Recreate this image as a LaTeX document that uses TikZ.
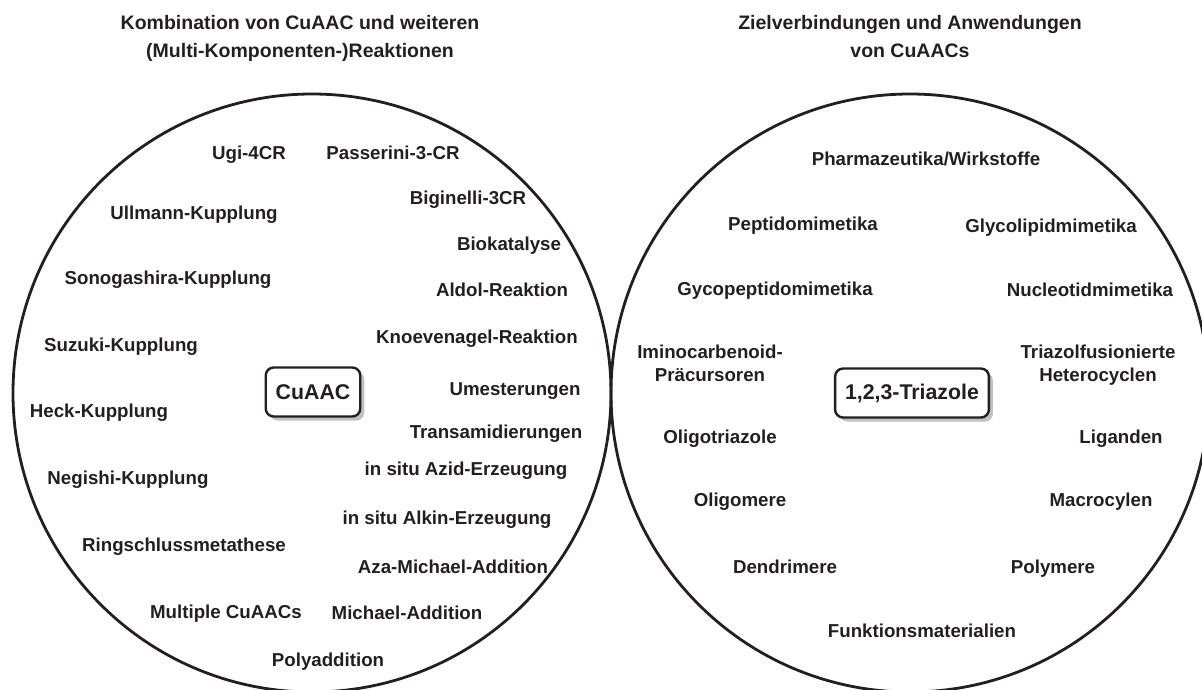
\documentclass[tikz,border=0pt]{standalone}
\usepackage{fontspec}
\setmainfont{Liberation Sans}
\usetikzlibrary{shadows}
\definecolor{ink}{RGB}{35,31,32}
\definecolor{shade}{RGB}{190,192,194}

\begin{document}
\begin{tikzpicture}[x=1pt,y=-1pt,
  ttl/.style={anchor=base,inner sep=0pt,text=ink,align=center,font=\fontsize{19.5}{27.5}\selectfont\bfseries},
  lbl/.style={anchor=base,inner sep=0pt,text=ink,align=center,font=\fontsize{18.7}{22.5}\selectfont\bfseries},
  ring/.style={draw=ink,line width=2.8pt,circle,minimum size=598pt,inner sep=0pt},
  hub/.style={draw=ink,line width=2.4pt,rounded corners=8pt,fill=white,text=ink,
    inner xsep=10pt,minimum height=49pt,font=\fontsize{21.3}{25}\selectfont\bfseries,
    drop shadow={shadow xshift=4pt,shadow yshift=-4pt,fill=shade,opacity=1}}]
\path[use as bounding box] (0,0) rectangle (1202,689);

% headings (base = last line)
\node[ttl] (headL) at (300,57) {Kombination von CuAAC und weiteren\\(Multi-Komponenten-)Reaktionen};
\node[ttl] (headR) at (910,57) {Zielverbindungen und Anwendungen\\von CuAACs};

% the two circles
\node[ring] (ringL) at (312,393) {};
\node[ring] (ringR) at (910,393) {};

% left circle
\node[hub] (cuaac) at (313,392) {CuAAC};
\node[lbl] (ugi) at (249,159) {Ugi-4CR};
\node[lbl] (passerini) at (393,159) {Passerini-3-CR};
\node[lbl] (biginelli) at (468,204) {Biginelli-3CR};
\node[lbl] (ullmann) at (194,219) {Ullmann-Kupplung};
\node[lbl] (biokat) at (509,250) {Biokatalyse};
\node[lbl] (sonogashira) at (168,284) {Sonogashira-Kupplung};
\node[lbl] (aldol) at (502,296) {Aldol-Reaktion};
\node[lbl] (knoevenagel) at (477,343) {Knoevenagel-Reaktion};
\node[lbl] (suzuki) at (121,351) {Suzuki-Kupplung};
\node[lbl] (umest) at (515,395) {Umesterungen};
\node[lbl] (heck) at (99,417) {Heck-Kupplung};
\node[lbl] (transamid) at (496,438) {Transamidierungen};
\node[lbl] (azid) at (466,475) {in situ Azid-Erzeugung};
\node[lbl] (negishi) at (128,484) {Negishi-Kupplung};
\node[lbl] (alkin) at (447,524) {in situ Alkin-Erzeugung};
\node[lbl] (rcm) at (184,551) {Ringschlussmetathese};
\node[lbl] (azamichael) at (453,573) {Aza-Michael-Addition};
\node[lbl] (multi) at (226,618) {Multiple CuAACs};
\node[lbl] (michael) at (407,619) {Michael-Addition};
\node[lbl] (polyadd) at (328,666) {Polyaddition};

% right circle
\node[hub] (triazole) at (912,393) {1,2,3-Triazole};
\node[lbl] (pharma) at (926,165) {Pharmazeutika/Wirkstoffe};
\node[lbl] (peptido) at (803,230) {Peptidomimetika};
\node[lbl] (glycolipid) at (1051,232) {Glycolipidmimetika};
\node[lbl] (glycopep) at (775,295) {Gycopeptidomimetika};
\node[lbl] (nucleotid) at (1090,296) {Nucleotidmimetika};
\node[lbl] (imino) at (710,381) {Iminocarbenoid-\\Präcursoren};
\node[lbl] (fusion) at (1098,381) {Triazolfusionierte\\Heterocyclen};
\node[lbl] (oligotri) at (720,443) {Oligotriazole};
\node[lbl] (liganden) at (1121,443) {Liganden};
\node[lbl] (oligomer) at (740,506) {Oligomere};
\node[lbl] (macro) at (1101,506) {Macrocylen};
\node[lbl] (dendri) at (785,573) {Dendrimere};
\node[lbl] (polymer) at (1053,573) {Polymere};
\node[lbl] (funktion) at (922,637) {Funktionsmaterialien};
\end{tikzpicture}
\end{document}
